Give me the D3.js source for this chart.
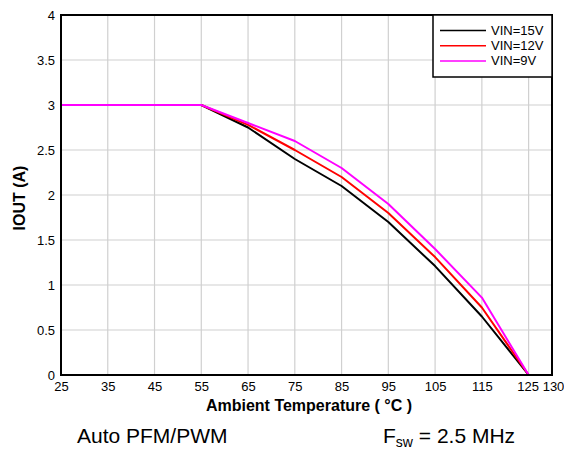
<!DOCTYPE html>
<html><head><meta charset="utf-8">
<script src="https://cdn.jsdelivr.net/npm/d3@7"></script>
<style>body{margin:0;background:#fff}svg{display:block;font-family:"Liberation Sans",Arial,sans-serif}</style>
</head><body><svg id="c" width="564" height="450"></svg>
<script>
const temps = [25, 55, 65, 75, 85, 95, 105, 115, 125];
const vin15 = [3, 3, 2.75, 2.4, 2.1, 1.7, 1.21, 0.65, 0];
const vin12 = [3, 3, 2.78, 2.5, 2.2, 1.8, 1.31, 0.75, 0];
const vin9  = [3, 3, 2.8, 2.6, 2.3, 1.9, 1.4, 0.86, 0];
const seriesNames = ["VIN=15V", "VIN=12V", "VIN=9V"];
const seriesColors = ["#000000", "#ff0000", "#ff00ff"];
const xTicks = [25, 35, 45, 55, 65, 75, 85, 95, 105, 115, 125, 130];
const yTicks = [0, 0.5, 1, 1.5, 2, 2.5, 3, 3.5, 4];
const yTickLabels = ["0", "0.5", "1", "1.5", "2", "2.5", "3", "3.5", "4"];

const svg = d3.select("#c");
const FONT = "Liberation Sans, Arial, sans-serif";
const L = 61, R = 552, T = 15, B = 375;
const x = d3.scaleLinear().domain([25, 130]).range([L, R]);
const y = d3.scaleLinear().domain([0, 4]).range([B, T]);

// grid
svg.append("g").selectAll("line").data(xTicks.slice(1, -1)).join("line")
  .attr("x1", d => x(d)).attr("x2", d => x(d)).attr("y1", T).attr("y2", B)
  .attr("stroke", "#d0d0d0").attr("stroke-width", 1.2);
svg.append("g").selectAll("line").data(yTicks.slice(1, -1)).join("line")
  .attr("x1", L).attr("x2", R).attr("y1", d => y(d)).attr("y2", d => y(d))
  .attr("stroke", "#d0d0d0").attr("stroke-width", 1.2);

// axes labels
const xa = svg.append("g").attr("transform", `translate(0,${B})`)
  .call(d3.axisBottom(x).tickValues(xTicks).tickSize(0).tickPadding(7).tickFormat(d3.format("d")));
xa.select(".domain").remove();
xa.selectAll("text").attr("font-size", 13).attr("fill", "#000").attr("font-family", FONT);
xa.selectAll(".tick").filter(d => d === 125).select("text").attr("dx", -1);
xa.selectAll(".tick").filter(d => d === 130).select("text").attr("dx", 1);

const ya = svg.append("g").attr("transform", `translate(${L},0)`)
  .call(d3.axisLeft(y).tickValues(yTicks).tickSize(0).tickPadding(6).tickFormat((d, i) => yTickLabels[i]));
ya.select(".domain").remove();
ya.selectAll("text").attr("font-size", 13).attr("fill", "#000").attr("font-family", FONT);

// lines
const data = [vin15, vin12, vin9];
const line = d3.line().x((d, i) => x(temps[i])).y(d => y(d));
svg.append("g").selectAll("path").data(data).join("path")
  .attr("d", d => line(d)).attr("fill", "none")
  .attr("stroke", (d, i) => seriesColors[i]).attr("stroke-width", 2).attr("stroke-linejoin", "round");

// frame
svg.append("rect").attr("x", L).attr("y", T).attr("width", R - L).attr("height", B - T)
  .attr("fill", "none").attr("stroke", "#000").attr("stroke-width", 2);

// legend
const lg = svg.append("g");
lg.append("rect").attr("x", 433).attr("y", 15).attr("width", 119).attr("height", 62)
  .attr("fill", "#fff").attr("stroke", "#000").attr("stroke-width", 1.5);
seriesNames.forEach((n, i) => {
  const yy = 30.5 + i * 15.2;
  lg.append("line").attr("x1", 440).attr("x2", 486).attr("y1", yy).attr("y2", yy)
    .attr("stroke", seriesColors[i]).attr("stroke-width", 1.5);
  lg.append("text").attr("x", 491).attr("y", yy + 4.5).attr("font-size", 13).text(n);
});

// titles
svg.append("text").attr("x", 309).attr("y", 411).attr("text-anchor", "middle")
  .attr("font-size", 16).attr("font-weight", "bold").text("Ambient Temperature ( °C )");
svg.append("text").attr("transform", "translate(25,198) rotate(-90)").attr("text-anchor", "middle")
  .attr("font-size", 16).attr("font-weight", "bold").text("IOUT (A)");

svg.append("text").attr("x", 77).attr("y", 443).attr("font-size", 21).text("Auto PFM/PWM");
const f = svg.append("text").attr("x", 383).attr("y", 443).attr("font-size", 21);
f.append("tspan").text("F");
f.append("tspan").attr("font-size", 14).attr("dy", 4).text("sw");
f.append("tspan").attr("dy", -4).text(" = 2.5 MHz");
</script></body></html>
